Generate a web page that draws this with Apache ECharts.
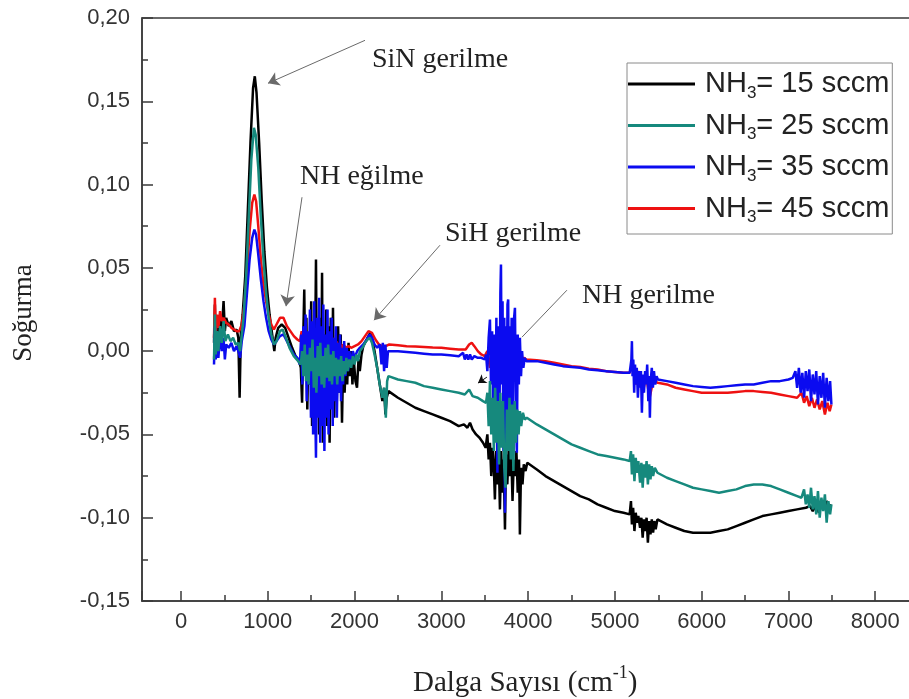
<!DOCTYPE html>
<html lang="tr">
<head>
    <meta charset="UTF-8">
    <title>FTIR - NH3 akisi</title>
    <script type="text/javascript" src="https://cdn.jsdelivr.net/npm/echarts@6.0.0/dist/echarts.min.js"></script>
    <style type="text/css">
        html,body{margin:0;padding:0;background:#fff;}
        #main{width:909px;height:699px;}
    </style>
</head>
<body>
<div id="main"></div>
<script type="text/javascript">
    // seri isimleri (legend)
    var seriesNames = ['NH3= 15 sccm', 'NH3= 25 sccm', 'NH3= 35 sccm', 'NH3= 45 sccm'];
    var seriesColors = ['#000000', '#16897d', '#0b0bf0', '#ee1111'];

    // eksen
    var xTicks = [0, 1000, 2000, 3000, 4000, 5000, 6000, 7000, 8000];
    var yTicks = [-0.15, -0.10, -0.05, 0.00, 0.05, 0.10, 0.15, 0.20];

    // NH3 = 15 sccm  [dalga sayisi, sogurma]
    var nh15 = [
        [380,0.005],[390,0.028],[400,0.0],[410,0.015],[430,0.008],[450,0.02],[470,0.012],[490,0.03],[505,0.012],[520,0.02],
        [550,0.015],[580,0.018],[610,0.012],[640,0.013],[660,0.008],[675,-0.028],[690,0.012],[710,0.022],[740,0.045],[770,0.085],
        [800,0.125],[830,0.158],[850,0.165],[870,0.155],[900,0.125],[930,0.09],[960,0.06],[990,0.038],[1020,0.022],[1050,0.01],
        [1075,0.0],[1090,0.008],[1120,0.014],[1160,0.016],[1200,0.014],[1240,0.008],[1280,0.002],[1320,-0.003],[1360,-0.006],
        [1380,-0.01],[1395,-0.031],[1405,0.0],[1420,0.037],[1430,-0.005],[1445,0.02],[1455,-0.035],[1470,0.01],[1485,-0.02],[1500,0.03],
        [1510,-0.045],[1525,0.015],[1540,-0.03],[1555,0.055],[1565,-0.02],[1578,0.01],[1590,-0.05],[1605,0.02],[1615,-0.03],[1625,0.047],
        [1635,-0.055],[1648,0.01],[1660,-0.035],[1672,0.025],[1685,-0.045],[1700,0.015],[1712,-0.055],[1725,0.02],[1738,-0.03],[1751,0.026],
        [1765,-0.04],[1780,0.005],[1795,-0.03],[1810,0.015],[1825,-0.025],[1840,0.01],[1855,-0.043],[1870,0.0],[1885,-0.025],[1900,-0.005],
        [1915,-0.02],[1930,0.005],[1945,-0.015],[1960,0.0],[1975,-0.02],[1990,-0.005],[2010,-0.018],[2028,-0.022],[2045,-0.005],[2060,-0.012],
        [2080,-0.002],[2100,0.003],[2130,0.006],[2160,0.009],[2180,0.011],[2200,0.008],[2230,0.0],[2260,-0.01],[2290,-0.02],[2320,-0.03],
        [2340,-0.022],[2355,-0.038],[2370,-0.028],[2390,-0.024],
        [2500,-0.028],[2600,-0.031],[2700,-0.034],[2800,-0.036],[2900,-0.038],[3000,-0.04],[3100,-0.042],[3200,-0.045],[3260,-0.044],[3300,-0.046],
        [3330,-0.043],[3360,-0.047],[3400,-0.05],[3440,-0.052],[3480,-0.055],[3510,-0.058],
        [3530,-0.05],[3545,-0.065],[3560,-0.055],[3575,-0.075],[3590,-0.058],[3605,-0.07],[3617,-0.089],[3630,-0.06],[3645,-0.08],[3660,-0.062],
        [3675,-0.095],[3690,-0.06],[3705,-0.085],[3718,-0.065],[3733,-0.107],[3745,-0.062],[3760,-0.08],[3775,-0.06],[3790,-0.075],[3805,-0.06],
        [3820,-0.09],[3835,-0.065],[3850,-0.075],[3865,-0.06],[3880,-0.085],[3895,-0.065],[3905,-0.11],[3918,-0.07],[3935,-0.08],[3950,-0.068],
        [3970,-0.072],[3990,-0.067],
        [4100,-0.071],[4200,-0.075],[4300,-0.078],[4400,-0.081],[4500,-0.084],[4600,-0.087],[4700,-0.089],[4800,-0.092],[4900,-0.094],[5000,-0.096],
        [5100,-0.097],[5170,-0.098],
        [5185,-0.09],[5196,-0.104],[5210,-0.094],[5225,-0.108],[5240,-0.097],[5255,-0.103],[5270,-0.099],[5290,-0.106],[5305,-0.1],[5320,-0.112],
        [5335,-0.101],[5350,-0.108],[5365,-0.1],[5380,-0.115],[5395,-0.102],[5410,-0.11],[5425,-0.101],[5440,-0.109],[5455,-0.102],[5470,-0.107],
        [5490,-0.101],
        [5600,-0.104],[5700,-0.106],[5800,-0.108],[5900,-0.109],[6000,-0.109],[6100,-0.109],[6200,-0.108],[6300,-0.107],[6400,-0.105],[6500,-0.103],
        [6600,-0.101],[6700,-0.099],[6800,-0.098],[6900,-0.097],[7000,-0.096],[7100,-0.095],[7200,-0.094],[7250,-0.093],[7280,-0.096],[7320,-0.092],
        [7350,-0.097],[7380,-0.091],[7410,-0.095],[7440,-0.09],[7470,-0.094],[7490,-0.092]
    ];

    // NH3 = 25 sccm
    var nh25 = [
        [380,-0.005],[390,0.022],[400,-0.002],[415,0.012],[430,0.0],[450,0.015],[470,0.005],[490,0.018],[510,0.006],[540,0.01],
        [570,0.006],[600,0.008],[630,0.004],[660,0.005],[680,0.0],[700,0.01],[720,0.02],[750,0.045],[780,0.08],[810,0.115],
        [840,0.134],[860,0.13],[890,0.11],[920,0.08],[950,0.055],[980,0.035],[1010,0.02],[1040,0.01],[1070,0.004],[1100,0.006],
        [1140,0.012],[1170,0.013],[1210,0.008],[1250,0.002],[1300,-0.003],[1350,-0.006],
        [1380,-0.008],[1395,0.0],[1410,-0.015],[1425,0.004],[1440,-0.018],[1455,-0.002],[1470,-0.02],[1485,0.002],[1500,-0.012],[1515,0.007],
        [1530,-0.022],[1545,-0.004],[1560,-0.025],[1575,0.003],[1590,-0.015],[1605,0.005],[1620,-0.02],[1635,-0.003],[1650,-0.022],[1665,0.002],
        [1680,-0.016],[1695,0.004],[1710,-0.018],[1725,-0.002],[1740,-0.02],[1755,0.0],[1770,-0.015],[1785,-0.004],[1800,-0.02],[1815,-0.005],
        [1830,-0.015],[1845,-0.003],[1860,-0.018],[1875,-0.006],[1890,-0.014],[1905,-0.004],[1920,-0.012],[1940,-0.005],[1960,-0.01],[1980,-0.003],
        [2000,-0.008],[2020,-0.002],[2040,-0.006],[2060,0.0],[2090,0.002],[2120,0.005],[2150,0.007],[2175,0.008],[2200,0.005],[2230,-0.002],
        [2260,-0.01],[2290,-0.02],[2320,-0.028],[2340,-0.022],[2360,-0.04],[2375,-0.018],[2390,-0.015],
        [2500,-0.017],[2600,-0.018],[2700,-0.019],[2800,-0.021],[2900,-0.022],[3000,-0.023],[3100,-0.024],[3200,-0.025],[3270,-0.026],[3320,-0.023],
        [3360,-0.027],[3420,-0.028],[3480,-0.03],[3515,-0.031],
        [3530,-0.025],[3545,-0.045],[3560,-0.018],[3575,-0.05],[3590,-0.028],[3605,-0.06],[3620,-0.022],[3635,-0.055],[3650,-0.03],[3665,-0.068],
        [3680,-0.025],[3695,-0.058],[3710,-0.03],[3725,-0.07],[3740,-0.082],[3755,-0.035],[3770,-0.06],[3785,-0.028],[3800,-0.065],[3815,-0.032],
        [3830,-0.072],[3845,-0.03],[3860,-0.055],[3875,-0.035],[3890,-0.05],[3905,-0.036],[3920,-0.045],[3940,-0.037],[3960,-0.041],[3985,-0.04],
        [4100,-0.044],[4200,-0.047],[4300,-0.05],[4400,-0.053],[4500,-0.056],[4600,-0.058],[4700,-0.06],[4800,-0.062],[4900,-0.063],[5000,-0.064],
        [5100,-0.065],[5170,-0.066],
        [5185,-0.06],[5196,-0.074],[5210,-0.062],[5225,-0.078],[5240,-0.064],[5255,-0.073],[5270,-0.066],[5290,-0.079],[5305,-0.067],[5320,-0.082],
        [5335,-0.068],[5350,-0.076],[5365,-0.066],[5380,-0.08],[5395,-0.068],[5410,-0.077],[5425,-0.069],[5440,-0.075],[5460,-0.07],[5490,-0.073],
        [5600,-0.076],[5700,-0.078],[5800,-0.08],[5900,-0.082],[6000,-0.083],[6100,-0.084],[6200,-0.085],[6300,-0.084],[6400,-0.083],[6500,-0.081],
        [6600,-0.08],[6700,-0.08],[6800,-0.081],[6900,-0.083],[7000,-0.085],[7100,-0.087],[7150,-0.088],
        [7180,-0.083],[7200,-0.092],[7220,-0.086],[7240,-0.094],[7260,-0.082],[7280,-0.095],[7300,-0.087],[7320,-0.098],[7340,-0.084],[7360,-0.1],
        [7380,-0.088],[7400,-0.096],[7420,-0.086],[7440,-0.103],[7460,-0.09],[7480,-0.098],[7495,-0.092]
    ];

    // NH3 = 35 sccm
    var nh35 = [
        [380,-0.008],[390,0.015],[400,-0.005],[415,0.008],[430,-0.004],[450,0.01],[470,0.0],[490,0.008],[505,-0.005],[520,0.004],
        [550,0.002],[580,0.005],[610,0.0],[640,0.003],[660,0.0],[680,-0.004],[700,0.006],[730,0.015],[760,0.035],[790,0.055],
        [820,0.068],[845,0.073],[865,0.07],[890,0.058],[920,0.043],[950,0.03],[980,0.02],[1010,0.012],[1040,0.007],[1070,0.004],
        [1100,0.006],[1140,0.009],[1180,0.01],[1220,0.006],[1260,0.002],[1300,-0.002],[1340,-0.004],
        [1370,-0.008],[1385,0.01],[1398,-0.02],[1410,0.015],[1422,-0.01],[1435,0.022],[1448,-0.03],[1460,0.012],[1472,-0.02],[1485,0.025],
        [1497,-0.04],[1510,0.018],[1522,-0.05],[1535,0.03],[1547,-0.035],[1555,-0.064],[1568,0.02],[1580,-0.04],[1592,0.032],[1604,-0.055],
        [1616,0.015],[1628,-0.045],[1640,0.028],[1652,-0.06],[1664,0.01],[1676,-0.04],[1688,0.025],[1700,-0.05],[1712,0.012],[1724,-0.035],
        [1736,0.02],[1748,-0.045],[1760,0.008],[1772,-0.03],[1784,0.015],[1796,-0.04],[1808,0.005],[1820,-0.025],[1832,0.01],[1844,-0.03],
        [1856,0.002],[1868,-0.02],[1880,0.006],[1895,-0.015],[1910,0.002],[1925,-0.012],[1940,0.0],[1960,-0.008],[1980,0.0],[2000,-0.004],
        [2030,0.0],[2060,0.002],[2100,0.004],[2140,0.007],[2175,0.01],[2200,0.008],[2230,0.004],[2260,0.002],[2290,0.004],[2310,-0.008],
        [2325,0.005],[2340,-0.012],[2355,0.004],[2370,-0.01],[2385,0.0],
        [2500,0.0],[2600,-0.0005],[2700,-0.001],[2800,-0.0015],[2900,-0.002],[3000,-0.002],[3100,-0.0025],[3200,-0.003],[3250,-0.001],[3270,-0.005],
        [3290,-0.002],[3310,-0.005],[3330,-0.002],[3350,-0.005],[3380,-0.003],[3420,-0.004],[3460,-0.004],[3500,-0.005],
        [3515,-0.002],[3530,-0.012],[3545,0.008],[3560,0.019],[3572,-0.02],[3585,0.012],[3598,-0.035],[3610,0.01],[3622,-0.05],[3634,0.02],
        [3646,-0.073],[3658,0.015],[3670,-0.04],[3680,0.035],[3687,0.052],[3695,-0.02],[3705,0.03],[3715,-0.06],[3725,0.02],[3733,-0.097],
        [3742,0.015],[3752,-0.05],[3762,0.028],[3770,0.031],[3778,-0.045],[3788,0.015],[3798,-0.035],[3810,0.02],[3822,-0.04],[3835,0.018],
        [3848,0.026],[3858,-0.03],[3870,-0.061],[3880,0.01],[3893,-0.02],[3905,0.008],[3918,-0.015],[3930,0.0],[3945,-0.01],[3960,-0.004],
        [3980,-0.006],
        [4100,-0.006],[4200,-0.007],[4300,-0.008],[4400,-0.009],[4500,-0.0095],[4600,-0.01],[4700,-0.011],[4800,-0.0115],[4900,-0.012],[5000,-0.0125],
        [5100,-0.013],[5170,-0.013],
        [5180,-0.012],[5190,-0.005],[5196,0.006],[5203,-0.015],[5212,-0.005],[5222,-0.025],[5232,-0.008],[5242,-0.02],[5252,-0.01],[5265,-0.028],
        [5278,-0.012],[5290,-0.022],[5300,-0.012],[5311,-0.037],[5322,-0.014],[5335,-0.025],[5348,-0.012],[5360,-0.02],[5372,-0.008],[5385,-0.03],
        [5395,-0.015],[5403,-0.04],[5412,-0.018],[5425,-0.01],[5438,-0.022],[5450,-0.012],[5465,-0.02],[5480,-0.015],[5495,-0.017],
        [5600,-0.018],[5700,-0.019],[5800,-0.02],[5900,-0.021],[6000,-0.0215],[6100,-0.022],[6200,-0.0215],[6300,-0.021],[6400,-0.0205],[6500,-0.02],
        [6600,-0.02],[6700,-0.019],[6800,-0.018],[6900,-0.018],[7000,-0.017],[7050,-0.016],
        [7080,-0.012],[7100,-0.022],[7120,-0.01],[7140,-0.025],[7160,-0.013],[7180,-0.028],[7200,-0.012],[7220,-0.024],[7240,-0.011],[7260,-0.03],
        [7280,-0.014],[7300,-0.026],[7320,-0.012],[7340,-0.032],[7360,-0.015],[7380,-0.028],[7400,-0.013],[7420,-0.034],[7440,-0.016],[7460,-0.03],
        [7480,-0.018],[7495,-0.032]
    ];

    // NH3 = 45 sccm
    var nh45 = [
        [380,0.008],[390,0.032],[400,0.01],[415,0.022],[430,0.014],[450,0.024],[470,0.018],[490,0.02],[520,0.017],[550,0.016],
        [580,0.014],[610,0.013],[640,0.012],[670,0.012],[700,0.016],[730,0.028],[760,0.048],[790,0.072],[820,0.089],[845,0.094],
        [865,0.09],[890,0.075],[920,0.055],[950,0.04],[980,0.03],[1010,0.022],[1040,0.016],[1070,0.013],[1100,0.016],[1140,0.02],
        [1180,0.02],[1220,0.015],[1260,0.012],[1300,0.009],[1340,0.007],
        [1370,0.006],[1390,0.012],[1410,-0.002],[1430,0.014],[1450,-0.004],[1470,0.01],[1490,-0.006],[1510,0.012],[1530,-0.008],[1550,0.01],
        [1570,-0.006],[1590,0.012],[1610,-0.005],[1630,0.01],[1650,-0.004],[1670,0.008],[1690,-0.003],[1710,0.009],[1730,-0.002],[1750,0.008],
        [1770,0.0],[1790,0.006],[1810,0.0],[1830,0.005],[1850,0.001],[1870,0.004],[1900,0.002],[1930,0.003],[1960,0.002],[2000,0.003],
        [2040,0.004],[2080,0.006],[2120,0.009],[2160,0.012],[2180,0.013],[2200,0.011],[2240,0.007],[2280,0.004],[2320,0.003],[2360,0.003],
        [2400,0.004],
        [2500,0.0035],[2600,0.003],[2700,0.0028],[2800,0.0025],[2900,0.0022],[3000,0.002],[3100,0.0015],[3200,0.001],[3280,0.001],[3320,0.004],
        [3350,0.005],[3380,0.003],[3420,0.0],[3460,-0.002],[3500,-0.003],
        [3530,0.0],[3560,-0.01],[3590,0.005],[3620,-0.012],[3650,0.008],[3680,-0.01],[3710,0.01],[3740,-0.015],[3770,0.006],[3800,-0.012],
        [3830,0.004],[3860,-0.01],[3890,0.0],[3920,-0.006],[3950,-0.004],[3980,-0.005],
        [4100,-0.0055],[4200,-0.006],[4300,-0.007],[4400,-0.008],[4500,-0.009],[4600,-0.0095],[4700,-0.0105],[4800,-0.011],[4900,-0.012],[5000,-0.0125],
        [5100,-0.013],[5170,-0.013],
        [5200,-0.008],[5240,-0.02],[5280,-0.012],[5320,-0.025],[5360,-0.015],[5400,-0.028],[5440,-0.018],[5495,-0.019],
        [5600,-0.02],[5700,-0.022],[5800,-0.023],[5900,-0.024],[6000,-0.025],[6100,-0.025],[6200,-0.025],[6300,-0.025],[6400,-0.0245],[6500,-0.024],
        [6600,-0.024],[6700,-0.0245],[6800,-0.025],[6900,-0.026],[7000,-0.027],[7100,-0.028],
        [7150,-0.025],[7180,-0.031],[7210,-0.027],[7240,-0.033],[7270,-0.028],[7300,-0.034],[7330,-0.029],[7360,-0.035],[7390,-0.03],[7420,-0.038],
        [7450,-0.031],[7475,-0.036],[7495,-0.032]
    ];

    var seriesData = [nh15, nh25, nh35, nh45];
    var seriesZ = [2, 5, 4, 3];

    var sansFont = "'Liberation Sans', Arial, sans-serif";
    var serifFont = "'Liberation Serif', 'Times New Roman', serif";

    var myChart = echarts.init(document.getElementById('main'), null, {renderer: 'canvas'});

    // ok cizgileri (isaretler)
    var arrowStyle = {color: '#6a6a6a', width: 1, type: 'solid'};
    var arrows = [
        [{coord: [2120, 0.1866]}, {coord: [1002, 0.1608]}],
        [{coord: [1394, 0.0924]}, {coord: [1210, 0.0270]}],
        [{coord: [2984, 0.0636]}, {coord: [2224, 0.0186]}],
        [{coord: [4447, 0.0366], symbol: 'none'}, {coord: [3929, 0.0084], symbol: 'none'}],
        [{coord: [3525, -0.0156], lineStyle: {color: '#111'}}, {coord: [3422, -0.0192], symbolSize: 8}]
    ];

    var series = [];
    for (var i = 0; i < seriesNames.length; i++) {
        var s = {
            name: seriesNames[i],
            type: 'line',
            data: seriesData[i],
            z: seriesZ[i],
            showSymbol: false,
            symbol: 'none',
            animation: false,
            lineStyle: {color: seriesColors[i], width: 2.5},
            itemStyle: {color: seriesColors[i]}
        };
        if (i === 0) {
            s.markLine = {
                silent: true,
                symbol: ['none', 'arrow'],
                symbolSize: 11,
                label: {show: false},
                lineStyle: arrowStyle,
                emphasis: {disabled: true},
                data: arrows
            };
        }
        series.push(s);
    }

    var option = {
        backgroundColor: '#ffffff',
        animation: false,
        grid: {
            left: 142, right: -53, top: 18, bottom: 98,
            show: true, borderColor: '#3a3a3a', borderWidth: 1.5,
            outerBoundsMode: 'none',
            containLabel: false
        },
        legend: {
            orient: 'vertical',
            left: 627, top: 63,
            icon: 'rect',
            itemWidth: 67, itemHeight: 3,
            itemGap: 9,
            padding: [6, 3, 8, 1],
            backgroundColor: '#ffffff',
            borderColor: '#8a8a8a', borderWidth: 1,
            data: seriesNames,
            formatter: function (name) {
                return name.replace('NH3', 'NH{sub|3}');
            },
            textStyle: {
                fontFamily: sansFont, fontSize: 29, color: '#222', lineHeight: 30,
                padding: [0, 0, 0, 5],
                rich: {
                    sub: {fontFamily: sansFont, fontSize: 17, color: '#222', padding: [18, 0, 0, 0]}
                }
            }
        },
        xAxis: {
            type: 'value',
            min: -450, max: 9000,
            minInterval: 1000, maxInterval: 1000,
            axisLine: {show: true, onZero: false, lineStyle: {color: '#3a3a3a', width: 1.5}},
            axisTick: {show: true, inside: true, length: 10, lineStyle: {color: '#3a3a3a', width: 1.5}},
            minorTick: {show: true, splitNumber: 2, length: 6, lineStyle: {color: '#3a3a3a', width: 1.5}},
            splitLine: {show: false},
            axisLabel: {
                margin: 10, fontFamily: sansFont, fontSize: 22, color: '#333',
                formatter: function (v) { return xTicks.indexOf(v) >= 0 ? String(v) : ''; }
            }
        },
        yAxis: {
            type: 'value',
            min: yTicks[0], max: yTicks[yTicks.length - 1], interval: 0.05,
            axisLine: {show: true, onZero: false, lineStyle: {color: '#3a3a3a', width: 1.5}},
            axisTick: {show: true, inside: true, length: 11, lineStyle: {color: '#3a3a3a', width: 1.5}},
            minorTick: {show: true, splitNumber: 2, length: 6, lineStyle: {color: '#3a3a3a', width: 1.5}},
            splitLine: {show: false},
            axisLabel: {
                margin: 12, fontFamily: sansFont, fontSize: 22, color: '#333',
                formatter: function (v) { return v.toFixed(2).replace('.', ','); }
            }
        },
        graphic: [
            // eksen basliklari
            {type: 'text', x: 24, y: 313, rotation: Math.PI / 2,
                style: {text: 'Soğurma', font: '27px ' + serifFont, fill: '#222', align: 'center', verticalAlign: 'middle'}},
            {type: 'text', x: 413, y: 683,
                style: {text: 'Dalga Sayısı (cm{sup|-1})', font: '29px ' + serifFont, fill: '#222', align: 'left', verticalAlign: 'middle',
                    rich: {sup: {font: '18px ' + serifFont, fill: '#222', padding: [0, 0, 20, 0]}}}},
            // bant isimleri
            {type: 'text', x: 372, y: 60, style: {text: 'SiN gerilme', font: '28px ' + serifFont, fill: '#222', verticalAlign: 'middle'}},
            {type: 'text', x: 300, y: 177, style: {text: 'NH eğilme', font: '28px ' + serifFont, fill: '#222', verticalAlign: 'middle'}},
            {type: 'text', x: 445, y: 234, style: {text: 'SiH gerilme', font: '28px ' + serifFont, fill: '#222', verticalAlign: 'middle'}},
            {type: 'text', x: 582, y: 296, style: {text: 'NH gerilme', font: '28px ' + serifFont, fill: '#222', verticalAlign: 'middle'}}
        ],
        series: series
    };

    myChart.setOption(option);
</script>
</body>
</html>
